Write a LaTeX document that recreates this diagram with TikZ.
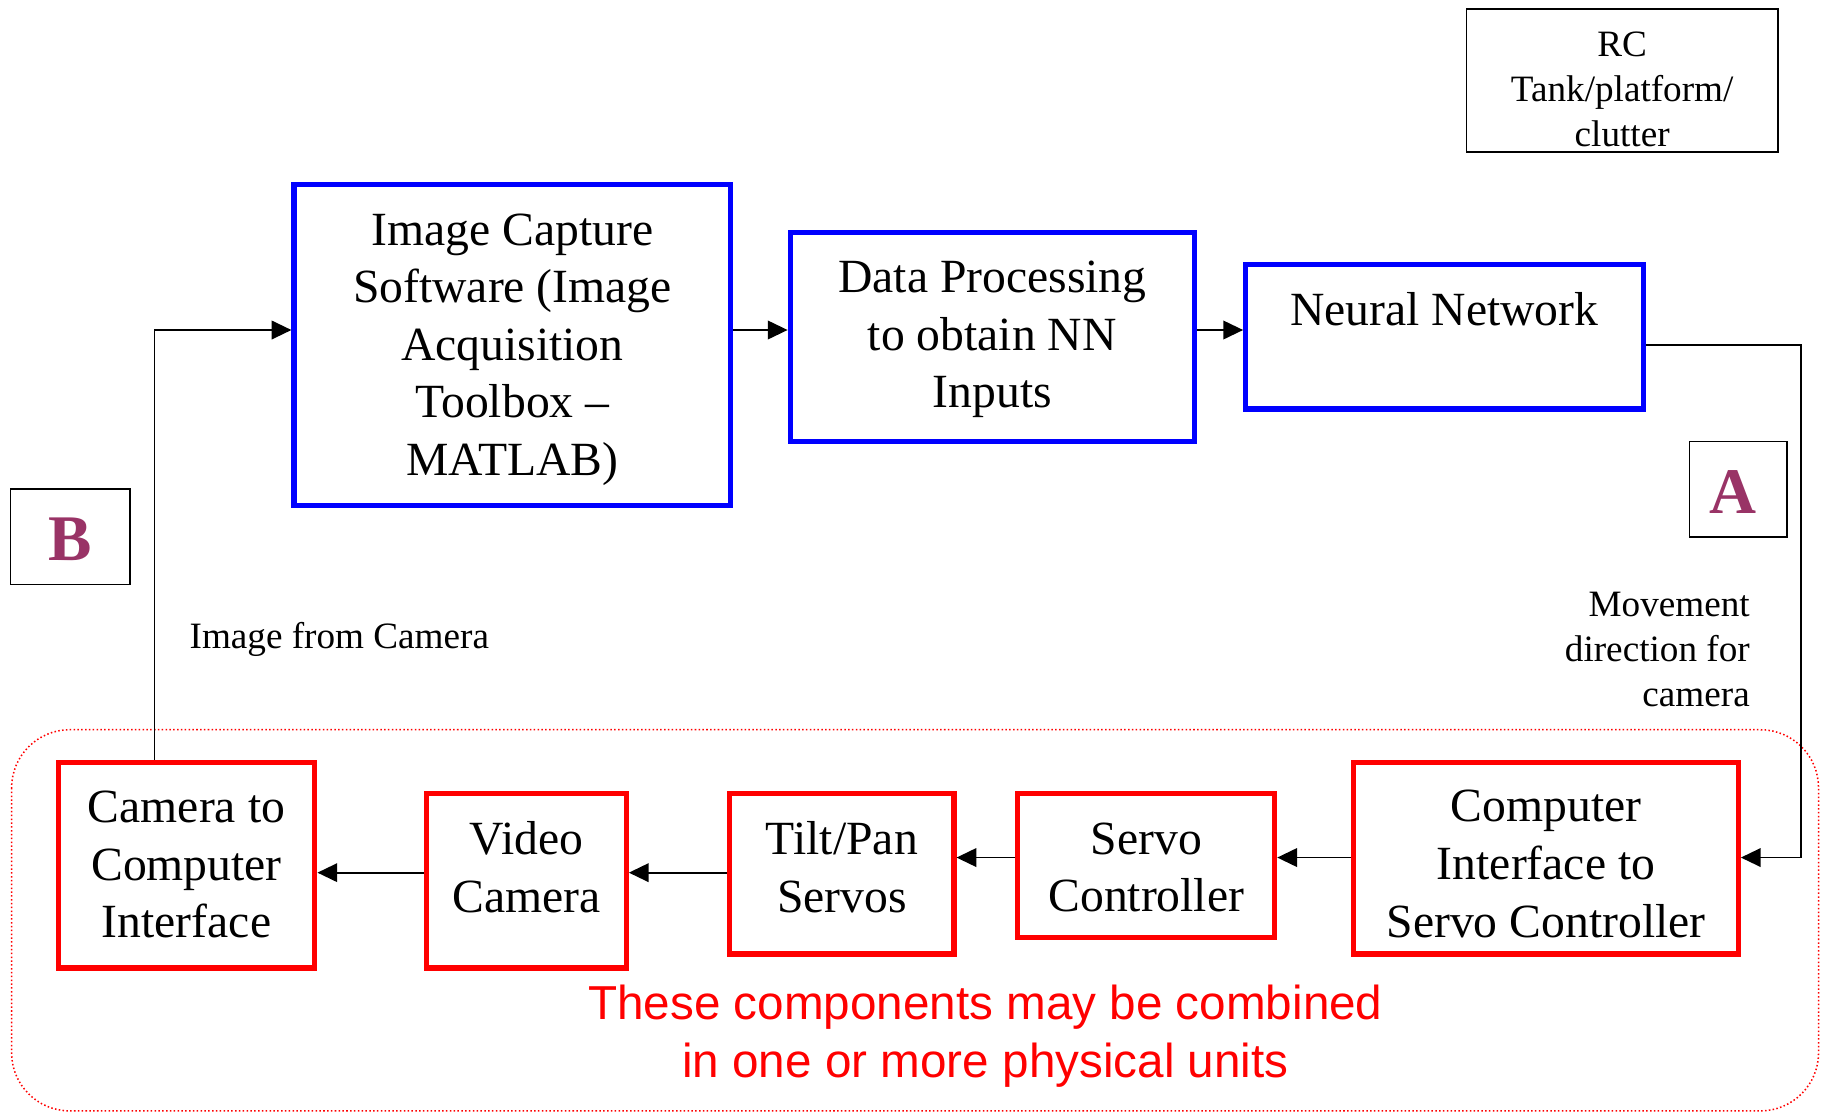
\documentclass[tikz,border=0pt]{standalone}
\usepackage{fontspec}
\setmainfont{Liberation Serif}
\newfontfamily\arialfont{Liberation Sans}
\usetikzlibrary{arrows.meta}
\definecolor{labelpurple}{HTML}{993366}
\begin{document}
\begin{tikzpicture}[x=1pt,y=-1pt,
  bluebox/.style={draw=blue, line width=4.4pt, inner sep=0pt},
  redbox/.style={draw=red, line width=4.4pt, inner sep=0pt},
  thinbox/.style={draw=black, line width=1.5pt, inner sep=0pt},
  bigtxt/.style={font=\fontsize{41}{49.5}\selectfont, align=center, inner sep=0pt},
  smalltxt/.style={font=\fontsize{32}{38.5}\selectfont, inner sep=0pt},
  tagtxt/.style={font=\fontsize{56}{60}\selectfont\bfseries, text=labelpurple, inner sep=0pt},
  conn/.style={draw=black, line width=1.5pt, -{Triangle[length=17pt,width=16pt]}},
  wire/.style={draw=black, line width=1.5pt}
]
\useasboundingbox[fill=white] (0,0) rectangle (1568,958);

% grouping of the physical units
\draw[red, dotted, line width=1.3pt, rounded corners=50pt] (10,628) rectangle (1565,956);

% top row (software)
\node[bluebox, minimum width=376pt, minimum height=276pt] (ic) at (441,297) {};
\node[bigtxt] (ictext) at (441,301) {Image Capture\\Software (Image\\Acquisition\\Toolbox --\\MATLAB)};

\node[bluebox, minimum width=348pt, minimum height=180pt] (dp) at (854,290) {};
\node[bigtxt] (dptext) at (854,292) {Data Processing\\to obtain NN\\Inputs};

\node[bluebox, minimum width=342pt, minimum height=124pt] (nn) at (1243,290) {};
\node[bigtxt] (nntext) at (1243,266) {Neural Network};

% scene box and section tags
\node[thinbox, minimum width=268pt, minimum height=123pt] (rc) at (1396,69.5) {};
\node[smalltxt, align=center] (rctext) at (1396,77) {RC\\Tank/platform/\\clutter};

\node[thinbox, minimum width=84pt, minimum height=82pt] (tagA) at (1496,421) {};
\node[tagtxt] (tagAtext) at (1491,423) {A};
\node[thinbox, minimum width=103pt, minimum height=82pt] (tagB) at (60.5,462) {};
\node[tagtxt] (tagBtext) at (60.5,464) {B};

% bottom row (hardware)
\node[redbox, minimum width=221pt, minimum height=177pt] (cci) at (160.5,744.5) {};
\node[bigtxt] (ccitext) at (160.5,744) {Camera to\\Computer\\Interface};

\node[redbox, minimum width=172pt, minimum height=150pt] (vc) at (453,758) {};
\node[bigtxt] (vctext) at (453,746.5) {Video\\Camera};

\node[redbox, minimum width=193pt, minimum height=138pt] (tp) at (724.5,752) {};
\node[bigtxt] (tptext) at (724.5,746.5) {Tilt/Pan\\Servos};

\node[redbox, minimum width=221pt, minimum height=124pt] (sc) at (986.5,745) {};
\node[bigtxt] (sctext) at (986.5,746.5) {Servo\\Controller};

\node[redbox, minimum width=331pt, minimum height=165pt] (cisc) at (1330.5,738.5) {};
\node[bigtxt] (cisctext) at (1330.5,743.5) {Computer\\Interface to\\Servo Controller};

% annotations
\node[smalltxt, anchor=west] (imglabel) at (163,550) {Image from Camera};
\node[smalltxt, align=right, anchor=east] (movelabel) at (1506,559) {Movement\\direction for\\camera};
\node[font=\arialfont\fontsize{41}{50}\selectfont, text=red, align=center, inner sep=0pt] (note) at (848,892)
  {These components may be combined\\in one or more physical units};

% routing points
\coordinate (jB) at (133,284);
\coordinate (jA1) at (1550,297);
\coordinate (jA2) at (1550,738);
\coordinate (yLow) at (0,751);

% connectors
\draw[conn] (cci.north -| jB) -- (jB) -- (ic.west |- jB);
\draw[conn] (ic.east |- jB) -- (dp.west |- jB);
\draw[conn] (dp.east |- jB) -- (nn.west |- jB);
\draw[conn] (nn.east |- jA1) -- (jA1) -- (jA2) -- (cisc.east |- jA2);
\draw[conn] (cisc.west |- jA2) -- (sc.east |- jA2);
\draw[conn] (sc.west |- jA2) -- (tp.east |- jA2);
\draw[conn] (tp.west |- yLow) -- (vc.east |- yLow);
\draw[conn] (vc.west |- yLow) -- (cci.east |- yLow);
\end{tikzpicture}
\end{document}
